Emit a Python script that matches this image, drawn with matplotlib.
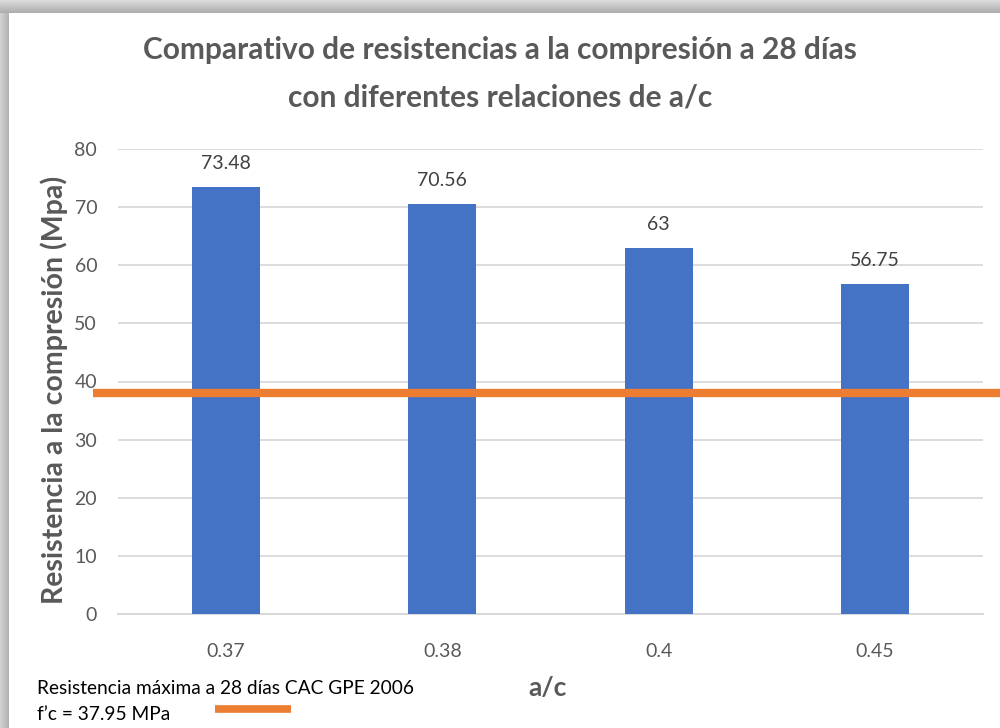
import numpy as np
import matplotlib.pyplot as plt
from matplotlib.lines import Line2D

# Datos: resistencia a la compresión a 28 días según relación a/c
relaciones_ac = ["0.37", "0.38", "0.4", "0.45"]
resistencias = [73.48, 70.56, 63, 56.75]
fc_referencia = 37.95  # MPa, CAC GPE 2006
ticks_y = [0, 10, 20, 30, 40, 50, 60, 70, 80]

AZUL = "#4472C4"
NARANJA = "#ED7D31"
GRIS_TEXTO = "#595959"
GRIS_GRID = "#D9D9D9"

plt.rcParams["font.family"] = ["Lato", "DejaVu Sans"]

W, H = 1000, 728
fig = plt.figure(figsize=(W / 100, H / 100), dpi=100)

# Marco con sombra gris arriba y a la izquierda
fondo = np.ones((H, W, 3))
for i in range(13):
    fondo[i, :, :] = 0.86 - 0.18 * i / 12
for j in range(9):
    v = 0.82 - 0.12 * j / 8
    fondo[13:, j, :] = v
ax_bg = fig.add_axes([0, 0, 1, 1], zorder=-5)
ax_bg.imshow(fondo, aspect="auto", extent=[0, 1, 0, 1], origin="upper")
ax_bg.axis("off")

ax = fig.add_axes([118 / W, 1 - 614 / H, 865 / W, 465 / H])
ax.set_facecolor("none")

x = np.arange(len(relaciones_ac))
barras = ax.bar(x, resistencias, width=0.315, color=AZUL, zorder=3)
ax.set_xlim(-0.5, len(relaciones_ac) - 0.5)
ax.set_ylim(0, 80)
ax.set_yticks(ticks_y)
ax.set_xticks(x)
ax.set_xticklabels(relaciones_ac)

for b, v in zip(barras, resistencias):
    ax.annotate(f"{v:g}", (b.get_x() + b.get_width() / 2, v),
                xytext=(0, 11), textcoords="offset points",
                ha="center", va="bottom", fontsize=14, color="#404040")

ax.grid(axis="y", color=GRIS_GRID, linewidth=1.3, zorder=0)
ax.set_axisbelow(True)
for s in ["top", "right", "left"]:
    ax.spines[s].set_visible(False)
ax.spines["bottom"].set_color(GRIS_GRID)
ax.spines["bottom"].set_linewidth(1.5)
ax.tick_params(axis="both", length=0, labelsize=14, colors=GRIS_TEXTO)
ax.tick_params(axis="x", pad=21)
ax.tick_params(axis="y", pad=15)

# Línea de referencia f'c, sobresale del área de trazado
trans = ax.get_yaxis_transform()
ax.add_line(Line2D([-0.029, 1.02], [fc_referencia, fc_referencia],
                   transform=trans, color=NARANJA, linewidth=6,
                   clip_on=False, zorder=4, solid_capstyle="butt"))

ax.set_ylabel("Resistencia a la compresión (Mpa)", fontsize=20.5,
              fontweight="bold", color=GRIS_TEXTO)
ax.yaxis.set_label_coords(-0.058, 0.482)

fig.text(0.5, 1 - 50 / H, "Comparativo de resistencias a la compresión a 28 días",
         ha="center", va="center", fontsize=21.5, fontweight="bold", color=GRIS_TEXTO)
fig.text(0.5, 1 - 97 / H, "con diferentes relaciones de a/c",
         ha="center", va="center", fontsize=21.5, fontweight="bold", color=GRIS_TEXTO)

fig.text(548 / W, 1 - 688 / H, "a/c", ha="center", va="center",
         fontsize=19, fontweight="bold", color=GRIS_TEXTO)

# Leyenda manual de la referencia normativa
fig.text(37 / W, 1 - 688 / H, "Resistencia máxima a 28 días CAC GPE 2006",
         ha="left", va="center", fontsize=13.8, color="black")
fig.text(37 / W, 1 - 714 / H, "f’c = 37.95 MPa",
         ha="left", va="center", fontsize=13.8, color="black")
fig.add_artist(Line2D([215 / W, 291 / W], [1 - 709 / H, 1 - 709 / H],
                      color=NARANJA, linewidth=5.5, solid_capstyle="butt"))

fig.savefig("out.png", dpi=100)
